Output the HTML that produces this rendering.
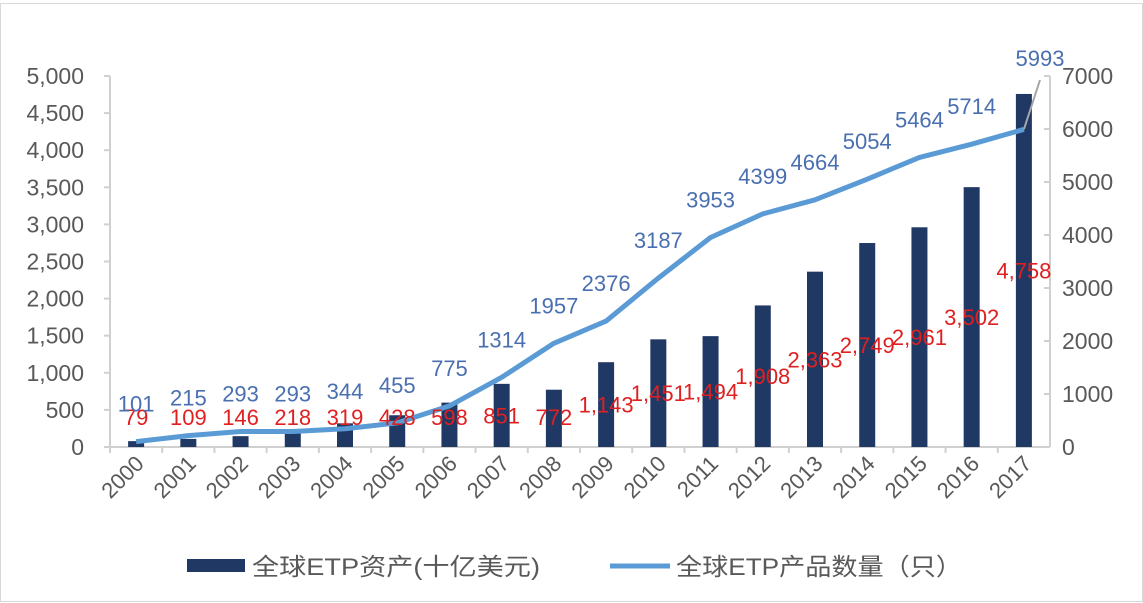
<!DOCTYPE html><html><head><meta charset="utf-8"><style>body{margin:0;background:#fff}svg{display:block}text{font-family:"Liberation Sans","Noto Sans CJK SC",sans-serif}</style></head><body>
<svg id="c" width="1143" height="603">
<rect x="0.5" y="3.5" width="1142" height="598" fill="#fff" stroke="#d9d9d9"/>
</svg>
<script>
const years=['2000','2001','2002','2003','2004','2005','2006','2007','2008','2009','2010','2011','2012','2013','2014','2015','2016','2017'];
const assets=[79,109,146,218,319,428,598,851,772,1143,1451,1494,1908,2363,2749,2961,3502,4758];
const assetLabels=['79','109','146','218','319','428','598','851','772','1,143','1,451','1,494','1,908','2,363','2,749','2,961','3,502','4,758'];
const counts=[101,215,293,293,344,455,775,1314,1957,2376,3187,3953,4399,4664,5054,5464,5714,5993];
const leftTicks=[0,500,1000,1500,2000,2500,3000,3500,4000,4500,5000];
const rightTicks=[0,1000,2000,3000,4000,5000,6000,7000];
const svg=document.getElementById('c');const NS='http://www.w3.org/2000/svg';
function mk(t,a,p){const e=document.createElementNS(NS,t);for(const k in a)e.setAttribute(k,a[k]);(p||svg).appendChild(e);return e;}
const X0=110,X1=1050,Y0=447,Y1=76,bw=(X1-X0)/years.length;
const xc=i=>X0+bw*(i+0.5);
const yl=v=>Y0-(v/5000)*(Y0-Y1);
const yr=v=>Y0-(v/7000)*(Y0-Y1);
leftTicks.forEach(v=>{const t=mk('text',{x:84,y:yl(v)+8,'text-anchor':'end','font-size':23,fill:'#595959'});t.textContent=v.toLocaleString('en-US');


const l=mk('line',{x1:104,x2:110,y1:yl(v),y2:yl(v),stroke:'#d0d0d0','stroke-width':2});

});
rightTicks.forEach(v=>{const t=mk('text',{x:1062,y:yr(v)+8,'font-size':23,fill:'#595959'});t.textContent=v;


const l=mk('line',{x1:1044,x2:1050,y1:yr(v),y2:yr(v),stroke:'#d0d0d0','stroke-width':2});

});
const lax=mk('line',{x1:110,x2:110,y1:yl(5000),y2:Y0,stroke:'#d0d0d0','stroke-width':2});


const ax=mk('line',{x1:1050,x2:1050,y1:yr(7000),y2:Y0,stroke:'#d0d0d0','stroke-width':2});


const bx=mk('line',{x1:X0,x2:X1,y1:Y0,y2:Y0,stroke:'#d0d0d0','stroke-width':2});


years.forEach((y,i)=>{const l=mk('line',{x1:X0+bw*i,x2:X0+bw*i,y1:Y0,y2:Y0+6,stroke:'#d0d0d0','stroke-width':2});


const x=xc(i)+9,yy=Y0+18;
const t=mk('text',{x:x,y:yy,'text-anchor':'end','font-size':22,fill:'#595959',transform:`rotate(-45 ${x} ${yy})`});t.textContent=y;

});
assets.forEach((v,i)=>{const r=mk('rect',{x:xc(i)-8,y:yl(v),width:16,height:Y0-yl(v),fill:'#1f3864'});

});
const pl=mk('polyline',{points:counts.map((v,i)=>xc(i)+','+yr(v)).join(' '),fill:'none',stroke:'#5b9bd5','stroke-width':5,'stroke-linejoin':'round'});


assets.forEach((v,i)=>{const y=Math.min((yl(v)+Y0)/2+8,425);const t=mk('text',{x:xc(i),y:y,'text-anchor':'middle','font-size':22,fill:'#e02020'});t.textContent=assetLabels[i];

});
counts.forEach((v,i)=>{let x=xc(i),y=yr(v)-30;if(i===counts.length-1){x=1040;y=66;const l=mk('line',{x1:xc(i),y1:yr(v),x2:1040,y2:80,stroke:'#a6a6a6','stroke-width':2});

}
const t=mk('text',{x:x,y:y,'text-anchor':'middle','font-size':22,fill:'#4a6fb0'});t.textContent=v;

});
const g=mk('g',{});
const s1=mk('rect',{x:187,y:559,width:58,height:13,fill:'#1f3864'},g);


const t1=mk('text',{x:252,y:575,'font-size':24,fill:'#595959','font-family':'"Liberation Serif","Noto Serif CJK SC",serif',textLength:288,lengthAdjust:'spacingAndGlyphs'},g);t1.textContent='全球ETP资产(十亿美元)';


const s2=mk('line',{x1:610,x2:670,y1:566,y2:566,stroke:'#5b9bd5','stroke-width':5},g);


const t2=mk('text',{x:676,y:575,'font-size':24,fill:'#595959','font-family':'"Liberation Serif","Noto Serif CJK SC",serif',textLength:286,lengthAdjust:'spacingAndGlyphs'},g);t2.textContent='全球ETP产品数量（只）';


</script></body></html>
